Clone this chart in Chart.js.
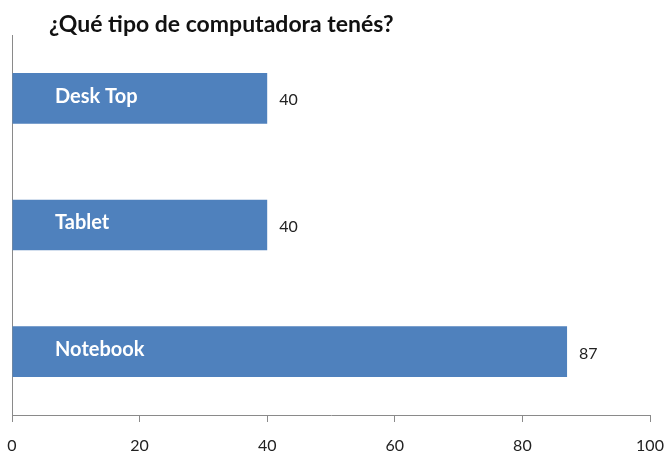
<!DOCTYPE html>
<html>
<head>
<meta charset="utf-8">
<script src="https://cdn.jsdelivr.net/npm/chart.js@4/dist/chart.umd.min.js"></script>
<style>
  html, body { margin: 0; padding: 0; background: #fff; }
  #wrap { width: 669px; height: 451px; position: relative; }
</style>
</head>
<body>
<div id="wrap"><canvas id="chart"></canvas></div>
<script>
// encuesta: tipo de computadora
const titulo = '¿Qué tipo de computadora tenés?';
const categorias = ['Desk Top', 'Tablet', 'Notebook'];
const cantidades = [40, 40, 87];
const ejeX = { min: 0, max: 100, paso: 20 };

const AZUL = '#4F81BD';
const EJE = '#8a8a8a';
const FUENTE = 'Lato, "Open Sans", sans-serif';

// titulo + nombres dentro de las barras + valores a la derecha
const etiquetas = {
  id: 'etiquetas',
  afterDatasetsDraw(chart) {
    const ctx = chart.ctx;
    const meta = chart.getDatasetMeta(0);
    const area = chart.chartArea;
    ctx.save();

    ctx.fillStyle = '#111';
    ctx.font = 'bold 23px ' + FUENTE;
    ctx.textAlign = 'left';
    ctx.textBaseline = 'alphabetic';
    ctx.fillText(titulo, 49, 32);

    meta.data.forEach((bar, i) => {
      ctx.fillStyle = '#ffffff';
      ctx.font = 'bold 20px ' + FUENTE;
      ctx.textAlign = 'left';
      ctx.textBaseline = 'middle';
      ctx.fillText(categorias[i], area.left + 43, bar.y - 2);

      ctx.fillStyle = '#222';
      ctx.font = '16px ' + FUENTE;
      ctx.fillText(String(cantidades[i]), bar.x + 12, bar.y + 2);
    });
    ctx.restore();
  }
};

new Chart(document.getElementById('chart'), {
  type: 'bar',
  data: {
    labels: categorias,
    datasets: [{
      data: cantidades,
      backgroundColor: AZUL,
      borderWidth: 0,
      barPercentage: 0.4,
      categoryPercentage: 1.0
    }]
  },
  options: {
    indexAxis: 'y',
    responsive: true,
    maintainAspectRatio: false,
    animation: false,
    layout: { padding: { left: 12, right: 19, top: 35, bottom: 0 } },
    plugins: {
      legend: { display: false },
      tooltip: { enabled: false }
    },
    scales: {
      x: {
        min: ejeX.min,
        max: ejeX.max,
        afterFit: s => { s.height = 36; s.paddingLeft = 0; s.paddingRight = 0; },
        ticks: {
          stepSize: ejeX.paso,
          color: '#222',
          padding: 14,
          font: { family: FUENTE, size: 16 }
        },
        grid: { drawOnChartArea: false, drawTicks: true, tickLength: 7, color: EJE },
        border: { display: true, color: EJE, width: 1 }
      },
      y: {
        afterFit: s => { s.width = 0; s.paddingTop = 0; s.paddingBottom = 0; },
        ticks: { display: false },
        grid: { display: false },
        border: { display: true, color: EJE, width: 1 }
      }
    }
  },
  plugins: [etiquetas]
});
</script>
</body>
</html>
